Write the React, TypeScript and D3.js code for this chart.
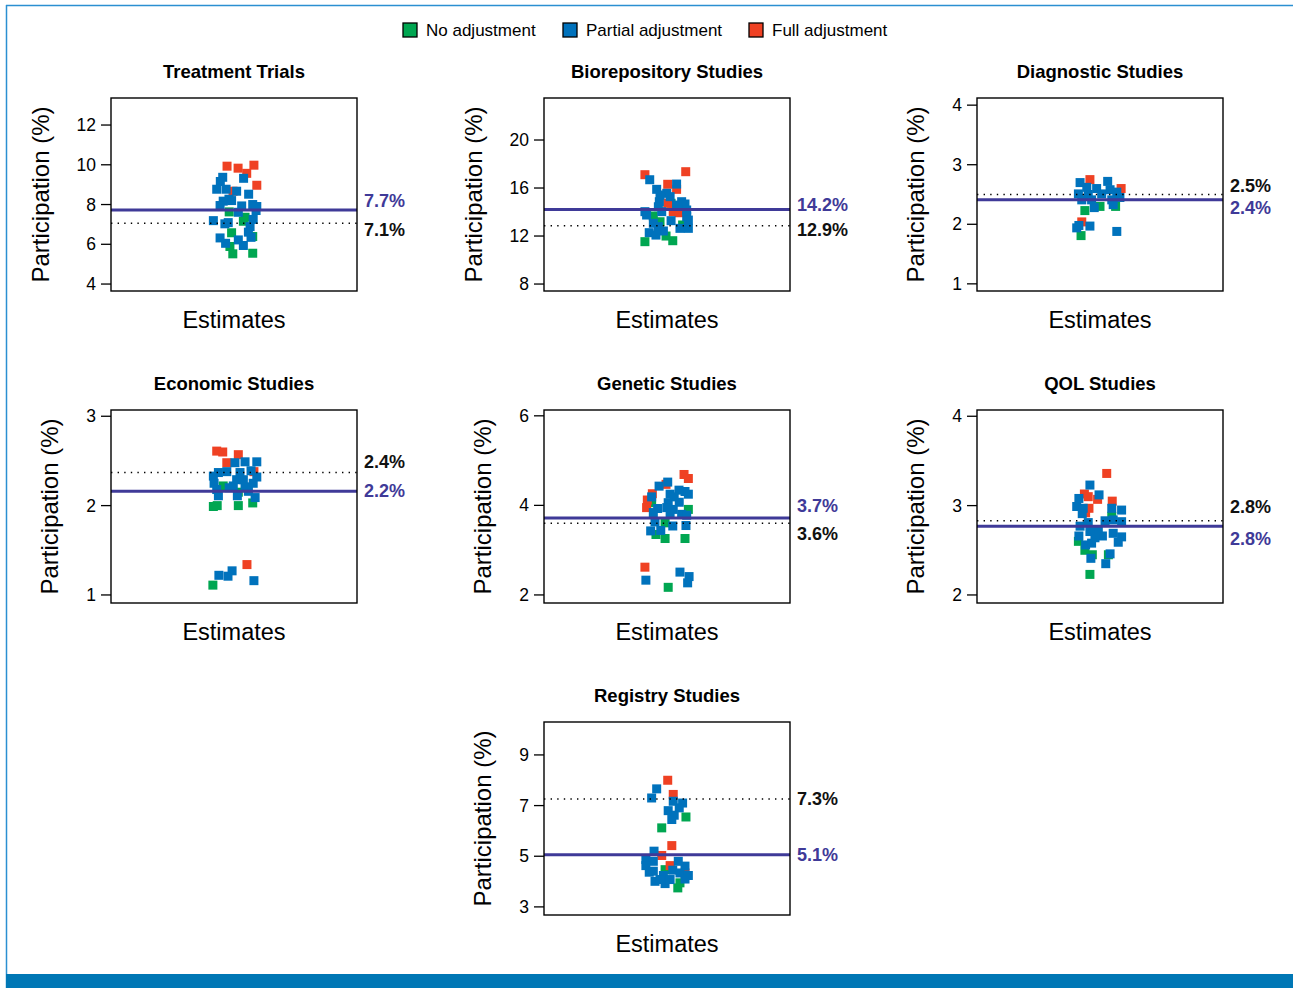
import React, { useEffect } from 'react';
import * as d3 from 'd3';

// each point: [horizontal jitter (-1..1), participation %]
type Pt = [number, number];

const groupNames = ['No adjustment', 'Partial adjustment', 'Full adjustment'];
const groupColors = ['#00a651', '#0072bc', '#ef4123'];

// Treatment Trials
const treatTicks = [4, 6, 8, 10, 12];
const treatDomain = [3.65, 13.36];
const treatLines = [7.72, 7.06]; // [solid mean, dotted]
const treatNone: Pt[] = [[-0.2, 7.63], [0.46, 7.36], [0.39, 7.16], [-0.1, 6.58], [0.78, 6.39], [-0.17, 5.89], [-0.05, 5.52], [0.78, 5.55]];
const treatPartial: Pt[] = [[-0.47, 9.37], [-0.57, 9.16], [-0.72, 8.77], [-0.33, 8.77], [0.11, 8.67], [0.4, 9.32], [0.61, 8.52], [-0.21, 8.27], [-0.1, 8.2], [-0.45, 8.17], [-0.58, 7.95], [0.32, 7.93], [0.78, 8.0], [0.95, 7.9], [0.92, 7.7], [0.18, 7.61], [-0.86, 7.19], [-0.38, 7.03], [-0.24, 7.09], [0.8, 7.25], [0.67, 6.89], [0.6, 6.61], [-0.58, 6.32], [0.18, 6.22], [-0.35, 6.05], [0.39, 5.94], [0.71, 6.35]];
const treatFull: Pt[] = [[-0.29, 9.93], [0.17, 9.83], [0.83, 9.98], [0.53, 9.57], [0.95, 8.97], [-0.04, 8.67]];

// Biorepository Studies
const bioTicks = [8, 12, 16, 20];
const bioDomain = [7.42, 23.5];
const bioLines = [14.21, 12.86];
const bioNone: Pt[] = [[-0.57, 13.67], [-0.29, 13.19], [0.65, 12.92], [-0.04, 12.0], [0.24, 11.61], [-0.92, 11.53], [0.17, 14.73]];
const bioPartial: Pt[] = [[-0.72, 16.69], [0.4, 16.33], [-0.43, 15.89], [-0.01, 15.56], [-0.29, 15.42], [0.13, 15.28], [-0.32, 14.86], [-0.36, 14.44], [0.61, 14.86], [0.75, 14.67], [0.4, 14.58], [0.82, 14.17], [-0.92, 14.03], [-0.85, 13.75], [-0.22, 14.03], [0.82, 13.61], [0.17, 13.28], [0.89, 13.33], [-0.57, 13.06], [-0.36, 12.78], [-0.15, 12.42], [0.54, 12.64], [0.89, 12.64], [-0.74, 12.28], [-0.46, 12.08]];
const bioFull: Pt[] = [[-0.92, 17.11], [0.78, 17.36], [0.03, 16.31], [0.4, 15.89], [0.03, 14.73], [0.26, 14.03], [0.51, 13.94]];

// Diagnostic Studies
const diagTicks = [1, 2, 3, 4];
const diagDomain = [0.88, 4.12];
const diagLines = [2.41, 2.5];
const diagNone: Pt[] = [[-0.63, 2.23], [0.0, 2.3], [0.65, 2.3], [-0.79, 1.81]];
const diagPartial: Pt[] = [[-0.83, 2.7], [0.32, 2.72], [-0.55, 2.62], [-0.14, 2.6], [0.42, 2.58], [-0.9, 2.51], [-0.49, 2.5], [0.07, 2.51], [0.7, 2.54], [0.83, 2.45], [-0.76, 2.41], [-0.35, 2.41], [0.49, 2.41], [-0.24, 2.28], [0.55, 2.33], [-0.97, 1.94], [-0.88, 1.98], [-0.42, 1.97], [0.7, 1.88]];
const diagFull: Pt[] = [[-0.42, 2.75], [0.88, 2.6], [-0.76, 2.04]];

// Economic Studies
const econTicks = [1, 2, 3];
const econDomain = [0.91, 3.07];
const econLines = [2.16, 2.37];
const econNone: Pt[] = [[-0.45, 2.22], [0.18, 2.15], [-0.86, 1.99], [-0.7, 2.0], [0.18, 2.0], [0.78, 2.03], [-0.88, 1.11]];
const econPartial: Pt[] = [[0.04, 2.48], [0.46, 2.49], [0.95, 2.49], [-0.3, 2.38], [-0.65, 2.37], [0.25, 2.37], [0.71, 2.39], [-0.86, 2.33], [0.95, 2.32], [0.11, 2.29], [0.39, 2.29], [-0.83, 2.25], [0.8, 2.25], [-0.03, 2.22], [-0.2, 2.2], [0.46, 2.21], [-0.72, 2.18], [0.6, 2.16], [-0.65, 2.11], [0.14, 2.11], [0.88, 2.09], [-0.63, 1.22], [-0.25, 1.21], [-0.08, 1.27], [0.83, 1.16]];
const econFull: Pt[] = [[-0.72, 2.61], [-0.47, 2.6], [0.18, 2.57], [-0.3, 2.48], [0.83, 2.38], [0.54, 1.34]];

// Genetic Studies
const geneTicks = [2, 4, 6];
const geneDomain = [1.82, 6.13];
const geneLines = [3.72, 3.6];
const geneNone: Pt[] = [[0.89, 3.91], [-0.64, 4.06], [-0.08, 3.61], [-0.46, 3.35], [-0.08, 3.26], [0.75, 3.26], [0.05, 2.17]];
const genePartial: Pt[] = [[-0.33, 4.43], [0.03, 4.52], [0.13, 4.25], [0.5, 4.34], [0.75, 4.31], [0.89, 4.25], [-0.64, 4.19], [0.3, 4.19], [0.51, 4.07], [0.05, 4.06], [-0.39, 3.93], [-0.01, 3.95], [0.26, 3.91], [-0.57, 3.84], [0.13, 3.84], [0.61, 3.8], [0.82, 3.78], [-0.5, 3.63], [0.24, 3.54], [0.79, 3.55], [-0.68, 3.43], [-0.26, 3.44], [0.54, 2.51], [0.92, 2.41], [-0.88, 2.33], [0.86, 2.27]];
const geneFull: Pt[] = [[0.71, 4.69], [0.89, 4.6], [-0.04, 4.47], [-0.61, 4.26], [-0.82, 4.12], [-0.85, 3.95], [-0.92, 2.62]];

// QOL Studies
const qolTicks = [2, 3, 4];
const qolDomain = [1.91, 4.07];
const qolLines = [2.77, 2.83];
const qolNone: Pt[] = [[0.49, 2.88], [-0.9, 2.6], [-0.63, 2.5], [-0.32, 2.45], [0.35, 2.45], [-0.42, 2.23]];
const qolPartial: Pt[] = [[-0.42, 3.23], [-0.04, 3.12], [-0.88, 3.08], [-0.97, 2.99], [-0.7, 2.97], [0.49, 2.97], [0.9, 2.95], [-0.74, 2.91], [0.21, 2.83], [0.55, 2.84], [0.9, 2.82], [-0.83, 2.77], [-0.49, 2.81], [-0.07, 2.72], [-0.42, 2.71], [0.1, 2.66], [-0.88, 2.66], [0.55, 2.69], [0.9, 2.65], [-0.21, 2.64], [0.76, 2.59], [-0.6, 2.56], [-0.35, 2.58], [0.42, 2.46], [-0.38, 2.41], [0.24, 2.35]];
const qolFull: Pt[] = [[0.28, 3.36], [-0.65, 3.13], [-0.49, 3.1], [-0.1, 3.07], [0.51, 3.05], [-0.46, 2.97], [-0.6, 2.92]];

// Registry Studies
const regTicks = [3, 5, 7, 9];
const regDomain = [2.68, 10.3];
const regLines = [5.06, 7.26];
const regNone: Pt[] = [[0.79, 6.55], [-0.22, 6.12], [-0.08, 4.47], [0.54, 3.95], [0.45, 3.75]];
const regPartial: Pt[] = [[-0.43, 7.66], [-0.64, 7.3], [0.26, 7.17], [0.65, 7.1], [0.51, 6.91], [0.05, 6.8], [0.3, 6.62], [0.2, 6.45], [-0.54, 5.2], [-0.88, 4.87], [-0.57, 4.8], [-0.88, 4.63], [0.47, 4.8], [0.75, 4.61], [-0.74, 4.37], [-0.57, 4.41], [0.24, 4.45], [-0.15, 4.24], [0.54, 4.34], [0.89, 4.24], [-0.5, 4.01], [-0.08, 3.92], [0.75, 4.1], [0.13, 4.08], [-0.29, 4.08]];
const regFull: Pt[] = [[0.03, 8.0], [0.26, 7.44], [0.2, 5.42], [-0.22, 5.03], [0.13, 4.63], [0.75, 4.34]];

const panels = [
  { title: 'Treatment Trials', col: 0, row: 0, ticks: treatTicks, domain: treatDomain, lines: treatLines, shift: [-9, 7], groups: [treatNone, treatPartial, treatFull] },
  { title: 'Biorepository Studies', col: 1, row: 0, ticks: bioTicks, domain: bioDomain, lines: bioLines, shift: [-5, 4], groups: [bioNone, bioPartial, bioFull] },
  { title: 'Diagnostic Studies', col: 2, row: 0, ticks: diagTicks, domain: diagDomain, lines: diagLines, shift: [8, -9], groups: [diagNone, diagPartial, diagFull] },
  { title: 'Economic Studies', col: 0, row: 1, ticks: econTicks, domain: econDomain, lines: econLines, shift: [0, -11], groups: [econNone, econPartial, econFull] },
  { title: 'Genetic Studies', col: 1, row: 1, ticks: geneTicks, domain: geneDomain, lines: geneLines, shift: [-12, 11], groups: [geneNone, genePartial, geneFull] },
  { title: 'QOL Studies', col: 2, row: 1, ticks: qolTicks, domain: qolDomain, lines: qolLines, shift: [13, -14], groups: [qolNone, qolPartial, qolFull] },
  { title: 'Registry Studies', col: 1, row: 2, ticks: regTicks, domain: regDomain, lines: regLines, shift: [0, 0], groups: [regNone, regPartial, regFull] },
];

const W = 1293;
const H = 988;
const FONT = '"Liberation Sans", Arial, sans-serif';
const PURPLE = '#3f3a98';
const boxLefts = [111, 544, 977];
const boxTops = [98, 410, 722];
const boxW = 246;
const boxH = 193;
const markSize = 9;
const drawOrder = [0, 2, 1]; // green, red, then blue on top

const Panel = ({ p }: { p: (typeof panels)[number] }) => {
  const x0 = boxLefts[p.col];
  const y0 = boxTops[p.row];
  const cx = x0 + boxW / 2;
  const y = d3.scaleLinear().domain(p.domain).range([y0 + boxH, y0]);
  const jitter = d3.scaleLinear().domain([-1, 1]).range([cx - 24, cx + 24]);
  const digits = d3.max(p.ticks, (t) => String(t).length) || 1;
  const labelX = x0 - 53 - 9 * digits;

  const [solid, dotted] = p.lines;
  const ys = y(solid);
  const yd = y(dotted);

  return (
    <g>
      <text x={cx} y={y0 - 27} textAnchor="middle" dominantBaseline="central" fontFamily={FONT} fontWeight="bold" fontSize={18.5}>
        {p.title}
      </text>
      {drawOrder.map((gi) => (
        <g key={gi}>
          {p.groups[gi].map(([j, v], i) => (
            <rect key={i} x={jitter(j) - markSize / 2} y={y(v) - markSize / 2} width={markSize} height={markSize} fill={groupColors[gi]} />
          ))}
        </g>
      ))}
      <line x1={x0} x2={x0 + boxW} y1={yd} y2={yd} stroke="#000" strokeWidth={1.4} strokeDasharray="1.4 5.2" />
      <line x1={x0} x2={x0 + boxW} y1={ys} y2={ys} stroke={PURPLE} strokeWidth={3} />
      <rect x={x0} y={y0} width={boxW} height={boxH} fill="none" stroke="#000" strokeWidth={1.4} />
      {p.ticks.map((t) => (
        <g key={t}>
          <line x1={x0 - 10} x2={x0} y1={y(t)} y2={y(t)} stroke="#000" strokeWidth={1.3} />
          <text x={x0 - 15} y={y(t)} textAnchor="end" dominantBaseline="central" fontFamily={FONT} fontSize={17.5}>
            {t}
          </text>
        </g>
      ))}
      <text x={x0 + boxW + 7} y={ys + p.shift[0]} dominantBaseline="central" fontFamily={FONT} fontWeight="bold" fontSize={18} fill={PURPLE}>
        {solid.toFixed(1)}%
      </text>
      <text x={x0 + boxW + 7} y={yd + p.shift[1]} dominantBaseline="central" fontFamily={FONT} fontWeight="bold" fontSize={18} fill="#111">
        {dotted.toFixed(1)}%
      </text>
      <text transform={`translate(${labelX},${y0 + boxH / 2}) rotate(-90)`} textAnchor="middle" dominantBaseline="central" fontFamily={FONT} fontSize={24}>
        Participation (%)
      </text>
      <text x={cx} y={y0 + boxH + 29} textAnchor="middle" dominantBaseline="central" fontFamily={FONT} fontSize={23.5}>
        Estimates
      </text>
    </g>
  );
};

const legendX = [403, 563, 749];

export default function App() {
  useEffect(() => {
    document.body.style.margin = '0';
    document.body.style.overflow = 'hidden';
  }, []);

  return (
    <svg width={W} height={H} style={{ display: 'block', background: '#fff' }}>
      {/* frame */}
      <line x1={6.5} x2={6.5} y1={5} y2={H} stroke="#2b8fd1" strokeWidth={1.5} />
      <line x1={6} x2={W} y1={5.5} y2={5.5} stroke="#2b8fd1" strokeWidth={1.5} />
      <rect x={6} y={974} width={W - 6} height={H - 974} fill="#0077b5" />

      {groupNames.map((name, i) => (
        <g key={name}>
          <rect x={legendX[i]} y={23} width={14} height={14} fill={groupColors[i]} stroke="#000" strokeWidth={1.3} />
          <text x={legendX[i] + 23} y={30.5} dominantBaseline="central" fontFamily={FONT} fontSize={17}>
            {name}
          </text>
        </g>
      ))}

      {panels.map((p) => (
        <Panel key={p.title} p={p} />
      ))}
    </svg>
  );
}
